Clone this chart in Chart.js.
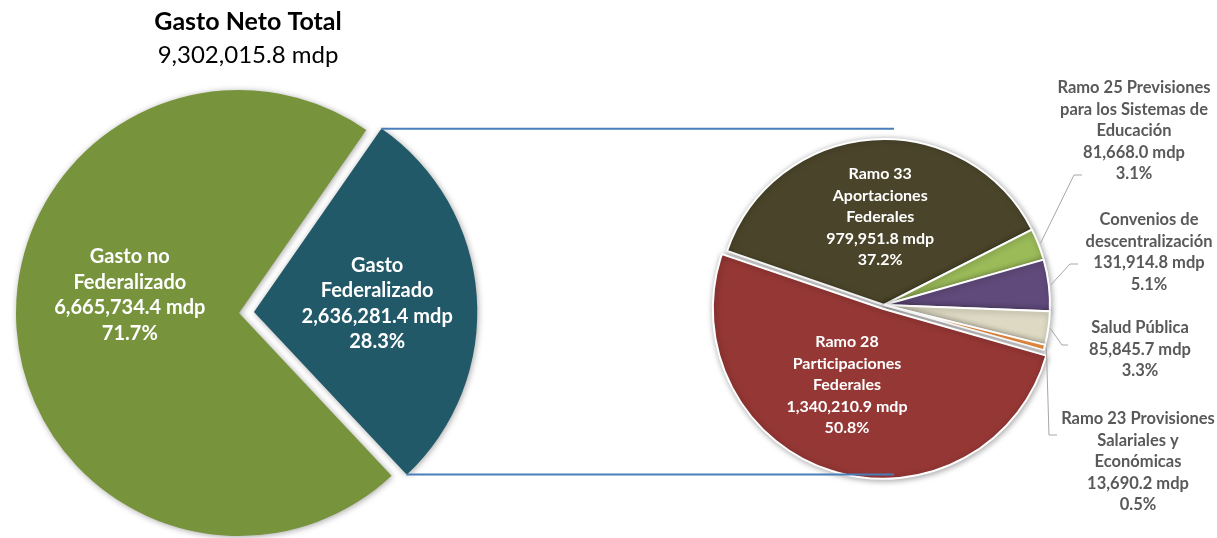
<!DOCTYPE html>
<html>
<head>
<meta charset="utf-8">
<script src="https://cdn.jsdelivr.net/npm/chart.js@4.4.0/dist/chart.umd.min.js"></script>
<style>
  html, body { margin: 0; padding: 0; background: #fff; }
  #wrap { position: relative; width: 1217px; height: 538px; }
  #wrap canvas { position: absolute; left: 0; top: 0; }
</style>
</head>
<body>
<div id="wrap">
  <canvas id="mainPie" width="496" height="538"></canvas>
  <canvas id="subPie" width="1217" height="538"></canvas>
</div>
<script>
// gasto neto total
const totalTitle = 'Gasto Neto Total';
const totalValue = 9302015.8;

// main pie
const mainCategories = ['Gasto Federalizado', 'Gasto no Federalizado'];
const mainValues = [2636281.4, 6665734.4];
const mainPercents = ['28.3%', '71.7%'];
const mainNameLines = [['Gasto', 'Federalizado'], ['Gasto no', 'Federalizado']];
const mainColors = ['#215968', '#77933C'];

// breakdown of gasto federalizado
const subCategories = [
    'Ramo 33 Aportaciones Federales',
    'Ramo 25 Previsiones para los Sistemas de Educación',
    'Convenios de descentralización',
    'Salud Pública',
    'Ramo 23 Provisiones Salariales y Económicas',
    'Ramo 28 Participaciones Federales'
];
const subValues = [979951.8, 81668.0, 131914.8, 85845.7, 13690.2, 1340210.9];
const subPercents = ['37.2%', '3.1%', '5.1%', '3.3%', '0.5%', '50.8%'];
const subNameLines = [
    ['Ramo 33', 'Aportaciones', 'Federales'],
    ['Ramo 25 Previsiones', 'para los Sistemas de', 'Educación'],
    ['Convenios de', 'descentralización'],
    ['Salud Pública'],
    ['Ramo 23 Provisiones', 'Salariales y', 'Económicas'],
    ['Ramo 28', 'Participaciones', 'Federales']
];
const subColors = ['#4A452A', '#9BBB59', '#604A7B', '#DDD9C3', '#F79646', '#953735'];

const FONT = 'Lato, "DejaVu Sans", sans-serif';
const numFmt = new Intl.NumberFormat('en-US', { minimumFractionDigits: 1, maximumFractionDigits: 1 });
const fmt = v => numFmt.format(v) + ' mdp';

function midPoint(arc, frac) {
    const mid = (arc.startAngle + arc.endAngle) / 2;
    const shift = (arc.options.offset || 0) / 4;
    const r = arc.outerRadius * frac + shift;
    return { x: arc.x + Math.cos(mid) * r, y: arc.y + Math.sin(mid) * r };
}

function drawLines(ctx, lines, x, cy, lh) {
    const top = cy - (lines.length - 1) * lh / 2;
    lines.forEach((t, i) => ctx.fillText(t, x, top + i * lh));
}

const softShadow = {
    id: 'softShadow',
    beforeDatasetsDraw(chart) {
        const ctx = chart.ctx;
        ctx.save();
        ctx.shadowColor = 'rgba(0, 0, 0, 0.35)';
        ctx.shadowBlur = 6;
        ctx.shadowOffsetX = 1;
        ctx.shadowOffsetY = 1;
    },
    afterDatasetsDraw(chart) {
        chart.ctx.restore();
    }
};

// nudges for the labels inside the slices
const mainNudge = [{ dx: 12, dy: 0 }, { dx: 2, dy: -26 }];

const mainLabels = {
    id: 'mainLabels',
    afterDatasetsDraw(chart) {
        const ctx = chart.ctx;
        const arcs = chart.getDatasetMeta(0).data;
        ctx.save();
        ctx.textAlign = 'center';
        ctx.textBaseline = 'middle';

        // heading, centred a bit right of the pie like the original
        ctx.fillStyle = '#000000';
        ctx.font = 'bold 25px ' + FONT;
        ctx.fillText(totalTitle, 248, 22);
        ctx.font = '24px ' + FONT;
        ctx.fillText(fmt(totalValue), 248, 55);

        ctx.font = 'bold 20px ' + FONT;
        ctx.fillStyle = '#ffffff';
        arcs.forEach((arc, i) => {
            const p = midPoint(arc, 0.5);
            const lines = [...mainNameLines[i], fmt(mainValues[i]), mainPercents[i]];
            drawLines(ctx, lines, p.x + mainNudge[i].dx, p.y + mainNudge[i].dy, 25.5);
        });
        ctx.restore();
    }
};

const mainChart = new Chart(document.getElementById('mainPie'), {
    type: 'pie',
    data: {
        labels: mainCategories,
        datasets: [{
            data: mainValues,
            backgroundColor: mainColors,
            borderWidth: 0,
            offset: [60, 0],
            hoverOffset: 0
        }]
    },
    options: {
        responsive: false,
        animation: false,
        rotation: 34.8,
        radius: 223,
        layout: { padding: { left: 0, right: 18, top: 88, bottom: 0 } },
        plugins: {
            legend: { display: false },
            tooltip: { enabled: false }
        }
    },
    plugins: [softShadow, mainLabels]
});

// inside labels of the second pie
const subInside = { 0: { dx: 2, dy: -5 }, 5: { dx: -11, dy: -3 } };
// outside labels: text centre / first line and leader elbow, relative to pie centre
const subCallouts = {
    1: { tx: 250, ty: -217, ex: 190, ey: -130, hx: 198 },
    2: { tx: 265, ty: -85, ex: 186, ey: -41, hx: 194 },
    3: { tx: 256, ty: 23, ex: 178, ey: 40, hx: 184 },
    4: { tx: 254, ty: 114, ex: 165, ey: 130, hx: 173 }
};

const subLabels = {
    id: 'subLabels',
    afterDatasetsDraw(chart) {
        const ctx = chart.ctx;
        const arcs = chart.getDatasetMeta(0).data;
        const cx = arcs[0].x, cy = arcs[0].y;
        ctx.save();
        ctx.textAlign = 'center';
        ctx.textBaseline = 'middle';

        // inside
        ctx.font = 'bold 16px ' + FONT;
        ctx.fillStyle = '#ffffff';
        Object.keys(subInside).forEach(k => {
            const i = +k;
            const p = midPoint(arcs[i], 0.5);
            const lines = [...subNameLines[i], fmt(subValues[i]), subPercents[i]];
            drawLines(ctx, lines, p.x + subInside[i].dx, p.y + subInside[i].dy, 21.5);
        });

        // outside with leader lines
        ctx.strokeStyle = '#A6A6A6';
        ctx.lineWidth = 1;
        ctx.fillStyle = '#595959';
        ctx.font = 'bold 16.5px ' + FONT;
        Object.keys(subCallouts).forEach(k => {
            const i = +k;
            const c = subCallouts[i];
            const arc = arcs[i];
            const mid = (arc.startAngle + arc.endAngle) / 2;
            const r = arc.outerRadius + 2;
            ctx.beginPath();
            ctx.moveTo(arc.x + Math.cos(mid) * r, arc.y + Math.sin(mid) * r);
            ctx.lineTo(cx + c.ex, cy + c.ey);
            ctx.lineTo(cx + c.hx, cy + c.ey);
            ctx.stroke();
            const lines = [...subNameLines[i], fmt(subValues[i]), subPercents[i]];
            lines.forEach((t, j) => ctx.fillText(t, cx + c.tx, cy + c.ty + j * 21.5));
        });
        ctx.restore();
    },
    afterDraw(chart) {
        // connector lines from the exploded federalizado slice
        const ctx = chart.ctx;
        const fed = mainChart.getDatasetMeta(0).data[0];
        const sub = chart.getDatasetMeta(0).data[0];
        const half = (fed.startAngle + fed.endAngle) / 2;
        const shift = fed.options.offset / 4;
        const ox = fed.x + Math.cos(half) * shift;
        const oy = fed.y + Math.sin(half) * shift;
        const R = fed.outerRadius;
        const endX = sub.x + 10;
        ctx.save();
        ctx.strokeStyle = '#4A7EBB';
        ctx.lineWidth = 2;
        [fed.startAngle, fed.endAngle].forEach(a => {
            const x = ox + Math.cos(a) * R;
            const y = oy + Math.sin(a) * R;
            ctx.beginPath();
            ctx.moveTo(x, y);
            ctx.lineTo(endX, y);
            ctx.stroke();
        });
        ctx.restore();
    }
};

new Chart(document.getElementById('subPie'), {
    type: 'pie',
    data: {
        labels: subCategories,
        datasets: [{
            data: subValues,
            backgroundColor: subColors,
            borderColor: '#ffffff',
            borderWidth: 2,
            offset: [0, 0, 0, 0, 0, 16],
            hoverOffset: 0
        }]
    },
    options: {
        responsive: false,
        animation: false,
        rotation: -71,
        radius: 166,
        layout: { padding: { left: 718, right: 167, top: 139, bottom: 67 } },
        plugins: {
            legend: { display: false },
            tooltip: { enabled: false }
        }
    },
    plugins: [softShadow, subLabels]
});
</script>
</body>
</html>
